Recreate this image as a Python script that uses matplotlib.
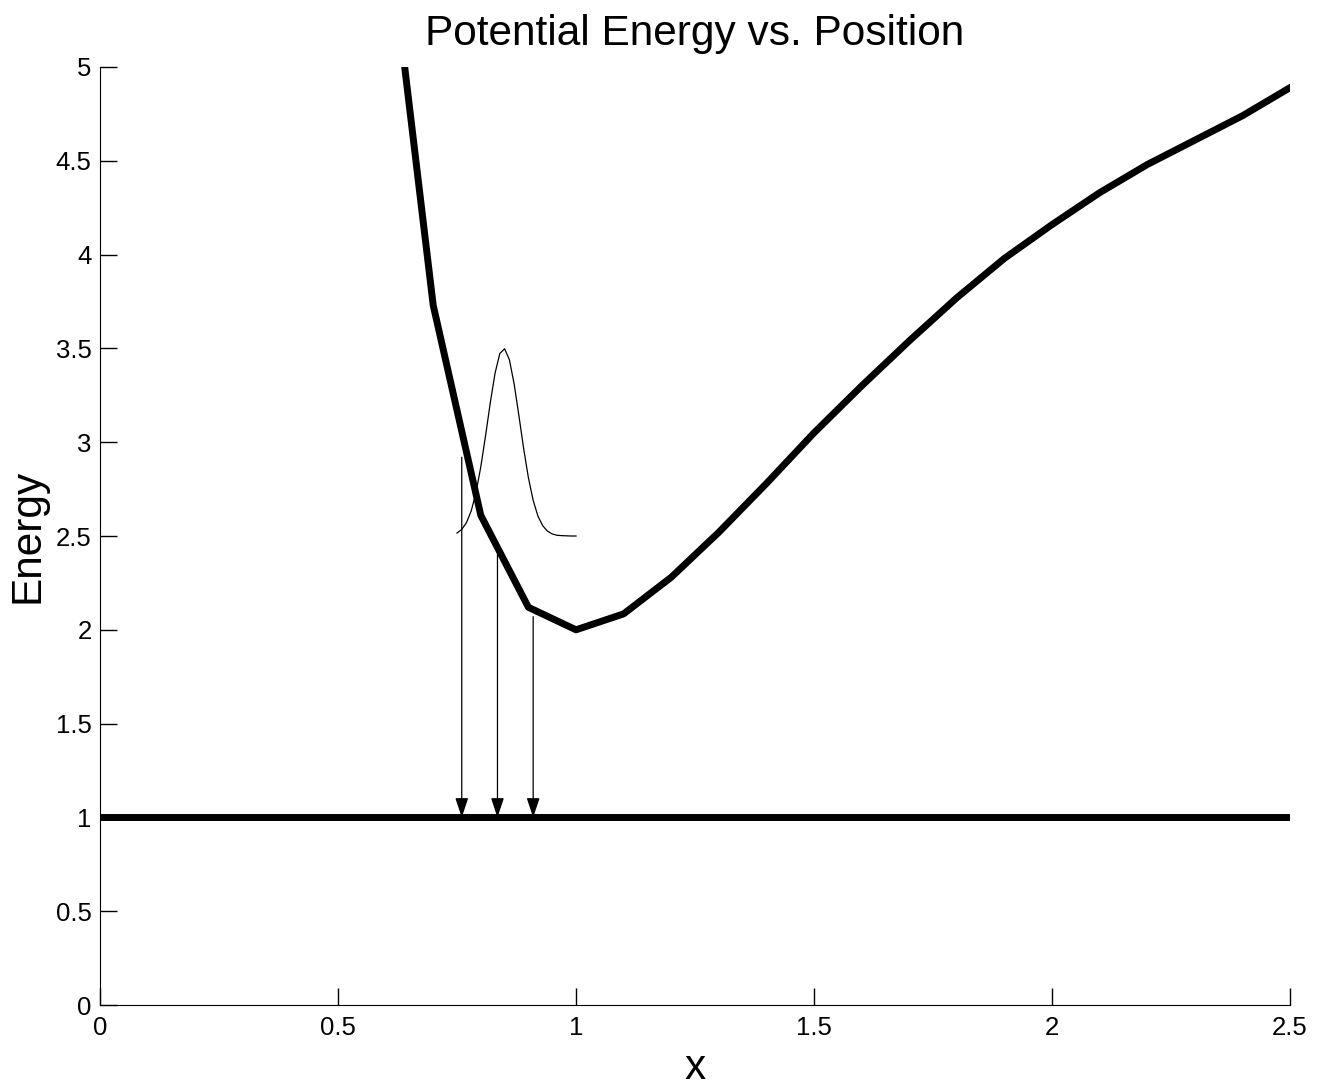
import matplotlib
matplotlib.use("Agg")
import matplotlib.pyplot as plt

plt.rcParams['font.family'] = ['Liberation Sans', 'DejaVu Sans']

# Potential energy curve
pot_x = [0.6, 0.7, 0.8, 0.9, 1.0, 1.1, 1.2, 1.3, 1.4, 1.5, 1.6, 1.7, 1.8,
         1.9, 2.0, 2.1, 2.2, 2.3, 2.4, 2.5]
pot_y = [5.85, 3.73, 2.61, 2.12, 2.00, 2.085, 2.28, 2.52, 2.78, 3.05, 3.30,
         3.54, 3.77, 3.98, 4.16, 4.33, 4.48, 4.61, 4.74, 4.89]

# Wave packet
wave_x = [0.75, 0.76, 0.77, 0.78, 0.79, 0.80, 0.81, 0.82, 0.83, 0.84, 0.85,
          0.86, 0.87, 0.88, 0.89, 0.90, 0.91, 0.92, 0.93, 0.94, 0.95, 0.96,
          0.97, 0.98, 0.99, 1.00]
wave_y = [2.516, 2.535, 2.572, 2.635, 2.733, 2.869, 3.035, 3.212, 3.369,
          3.473, 3.498, 3.44, 3.311, 3.142, 2.966, 2.81, 2.69, 2.606, 2.555,
          2.526, 2.511, 2.504, 2.502, 2.501, 2.50, 2.50]

# Ground level
ground_x = [0.0, 2.5]
ground_y = [1.0, 1.0]

# Vertical transition arrows
arrow_x = [0.76, 0.835, 0.91]
arrow_top = [2.92, 2.40, 2.07]
arrow_bottom = 1.0

fig = plt.figure(figsize=(13.26, 10.91), dpi=100)
ax = fig.add_axes([0.0754, 0.0788, 0.8975, 0.8598])

ax.plot(ground_x, ground_y, color='black', linewidth=5, solid_capstyle='butt')
ax.plot(pot_x, pot_y, color='black', linewidth=5)
ax.plot(wave_x, wave_y, color='black', linewidth=0.9)

for xa, yt in zip(arrow_x, arrow_top):
    ax.annotate('', xy=(xa, arrow_bottom), xytext=(xa, yt),
                arrowprops=dict(arrowstyle='-|>,head_length=1.2,head_width=0.4',
                                color='black', lw=0.9, shrinkA=0, shrinkB=0))

ax.set_xlim(0, 2.5)
ax.set_ylim(0, 5)
ax.set_xticks([0, 0.5, 1, 1.5, 2, 2.5])
ax.set_xticklabels(['0', '0.5', '1', '1.5', '2', '2.5'])
ax.set_yticks([0, 0.5, 1, 1.5, 2, 2.5, 3, 3.5, 4, 4.5, 5])
ax.set_yticklabels(['0', '0.5', '1', '1.5', '2', '2.5', '3', '3.5', '4', '4.5', '5'])
ax.tick_params(direction='in', length=12, width=1, labelsize=18.5)
ax.tick_params(axis='y', pad=6)
ax.tick_params(axis='x', pad=8)
ax.spines['top'].set_visible(False)
ax.spines['right'].set_visible(False)

ax.set_title('Potential Energy vs. Position', fontsize=30.5, pad=16)
ax.set_xlabel('x', fontsize=30.5, labelpad=6)
ax.set_ylabel('Energy', fontsize=30.5, labelpad=6)

fig.savefig('out.png', dpi=100)
